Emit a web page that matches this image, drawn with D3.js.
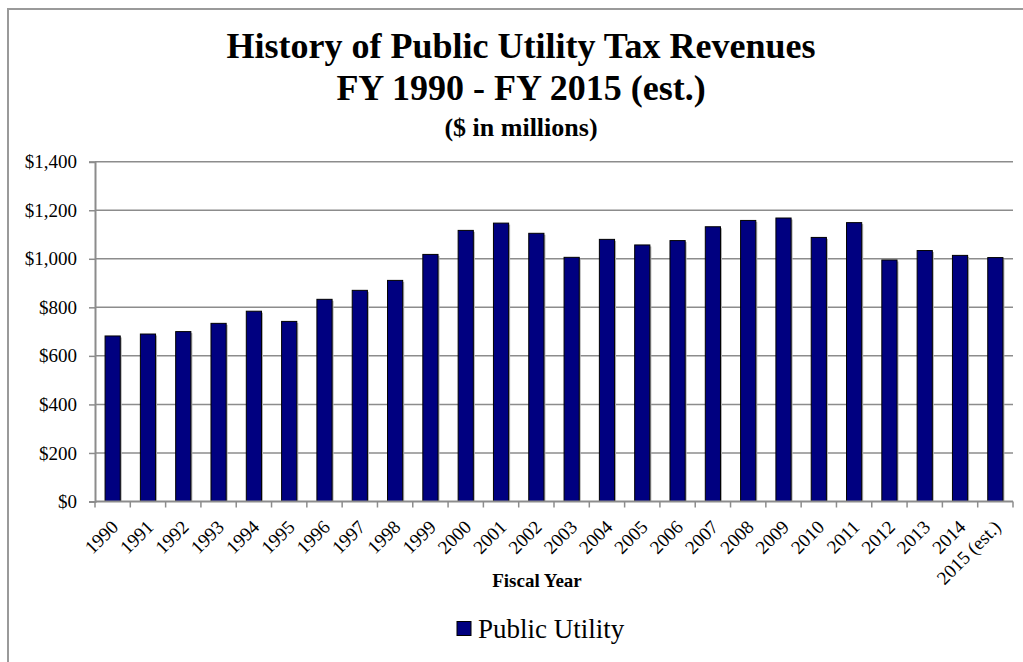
<!DOCTYPE html>
<html>
<head>
<meta charset="utf-8">
<script src="https://cdn.jsdelivr.net/npm/d3@7"></script>
<style>
  html, body { margin: 0; padding: 0; background: #fff; overflow: hidden; }
  svg { display: block; font-family: "Liberation Serif", "Times New Roman", serif; }
</style>
</head>
<body>
<svg id="chart" width="1023" height="662"></svg>
<script>
// Public utility tax revenues, $ millions, by fiscal year
const years = ["1990","1991","1992","1993","1994","1995","1996","1997","1998","1999",
               "2000","2001","2002","2003","2004","2005","2006","2007","2008","2009",
               "2010","2011","2012","2013","2014","2015 (est.)"];
const revenues = [682, 690, 700, 734, 784, 742, 833, 870, 911, 1018,
                  1117, 1147, 1105, 1006, 1080, 1057, 1075, 1132, 1158, 1168,
                  1088, 1149, 995, 1034, 1014, 1005];
const yTicks = [0, 200, 400, 600, 800, 1000, 1200, 1400];
const titleLines = ["History of Public Utility Tax Revenues", "FY 1990 - FY 2015 (est.)"];
const subtitle = "($ in millions)";
const xTitle = "Fiscal Year";
const seriesName = "Public Utility";

const svg = d3.select("#chart");
const barColor = "#000080";
const gridColor = "#8c8c8c";

// chart frame
svg.append("rect")
  .attr("x", 8).attr("y", 9)
  .attr("width", 1040).attr("height", 700)
  .attr("fill", "none").attr("stroke", "#9a9a9a").attr("stroke-width", 2);

const plot = { left: 95, right: 1013, top: 161.7, bottom: 501.5 };

const x = d3.scaleBand()
  .domain(years)
  .range([plot.left, plot.right])
  .paddingInner(0.57)
  .paddingOuter(0.285);

const y = d3.scaleLinear()
  .domain([0, 1400])
  .range([plot.bottom, plot.top]);

// horizontal gridlines
svg.append("g")
  .selectAll("line")
  .data(yTicks.filter(d => d > 0))
  .join("line")
  .attr("x1", plot.left).attr("x2", plot.right)
  .attr("y1", d => y(d)).attr("y2", d => y(d))
  .attr("stroke", gridColor).attr("stroke-width", 1.5);

// bar shadows
svg.append("g")
  .selectAll("rect")
  .data(revenues)
  .join("rect")
  .attr("x", (d, i) => x(years[i]) + 1.5)
  .attr("y", d => y(d) + 1.5)
  .attr("width", x.bandwidth())
  .attr("height", d => y(0) - y(d) - 1.5)
  .attr("fill", "#b0b0b0");

// bars
svg.append("g")
  .selectAll("rect")
  .data(revenues)
  .join("rect")
  .attr("x", (d, i) => x(years[i]))
  .attr("y", d => y(d))
  .attr("width", x.bandwidth())
  .attr("height", d => y(0) - y(d))
  .attr("fill", barColor)
  .attr("stroke", "#000")
  .attr("stroke-width", 1);

// y axis
const yAxis = svg.append("g")
  .attr("transform", `translate(${plot.left},0)`)
  .call(d3.axisLeft(y).tickValues(yTicks).tickSize(6).tickPadding(12)
    .tickFormat(d => "$" + d3.format(",")(d)));
yAxis.select(".domain").attr("stroke", gridColor).attr("stroke-width", 2);
yAxis.selectAll(".tick line").attr("stroke", gridColor).attr("stroke-width", 1.5);
yAxis.selectAll(".tick text")
  .attr("fill", "#000")
  .style("font-family", "'Liberation Serif', 'Times New Roman', serif")
  .style("font-size", "19px");

// x axis baseline
svg.append("line")
  .attr("x1", plot.left).attr("x2", plot.right)
  .attr("y1", y(0)).attr("y2", y(0))
  .attr("stroke", gridColor).attr("stroke-width", 2);

// x tick marks at category boundaries
const boundaries = d3.range(years.length + 1).map(i => plot.left + i * x.step());
svg.append("g")
  .selectAll("line")
  .data(boundaries)
  .join("line")
  .attr("x1", d => d).attr("x2", d => d)
  .attr("y1", y(0)).attr("y2", y(0) + 6)
  .attr("stroke", gridColor).attr("stroke-width", 1.5);

// rotated category labels
svg.append("g")
  .selectAll("text")
  .data(years)
  .join("text")
  .attr("transform", d => `translate(${x(d) + x.bandwidth() / 2 + 2},${y(0) + 22}) rotate(-45)`)
  .attr("text-anchor", "end")
  .attr("dy", "0.35em")
  .style("font-size", "19px")
  .attr("fill", "#000")
  .text(d => d);

// titles
const cx = 521;
svg.append("text")
  .attr("x", cx).attr("y", 58)
  .attr("text-anchor", "middle")
  .style("font-size", "36px").style("font-weight", "bold")
  .text(titleLines[0]);
svg.append("text")
  .attr("x", cx).attr("y", 100)
  .attr("text-anchor", "middle")
  .style("font-size", "36px").style("font-weight", "bold")
  .text(titleLines[1]);
svg.append("text")
  .attr("x", cx).attr("y", 136)
  .attr("text-anchor", "middle")
  .style("font-size", "26px").style("font-weight", "bold")
  .text(subtitle);

// axis title
svg.append("text")
  .attr("x", 537).attr("y", 586.5)
  .attr("text-anchor", "middle")
  .style("font-size", "19px").style("font-weight", "bold")
  .text(xTitle);

// legend
const legend = svg.append("g");
legend.append("rect")
  .attr("x", 457).attr("y", 621.5)
  .attr("width", 14).attr("height", 14)
  .attr("fill", barColor).attr("stroke", "#000").attr("stroke-width", 1);
legend.append("text")
  .attr("x", 478).attr("y", 637.5)
  .style("font-size", "27px")
  .text(seriesName);
</script>
</body>
</html>
